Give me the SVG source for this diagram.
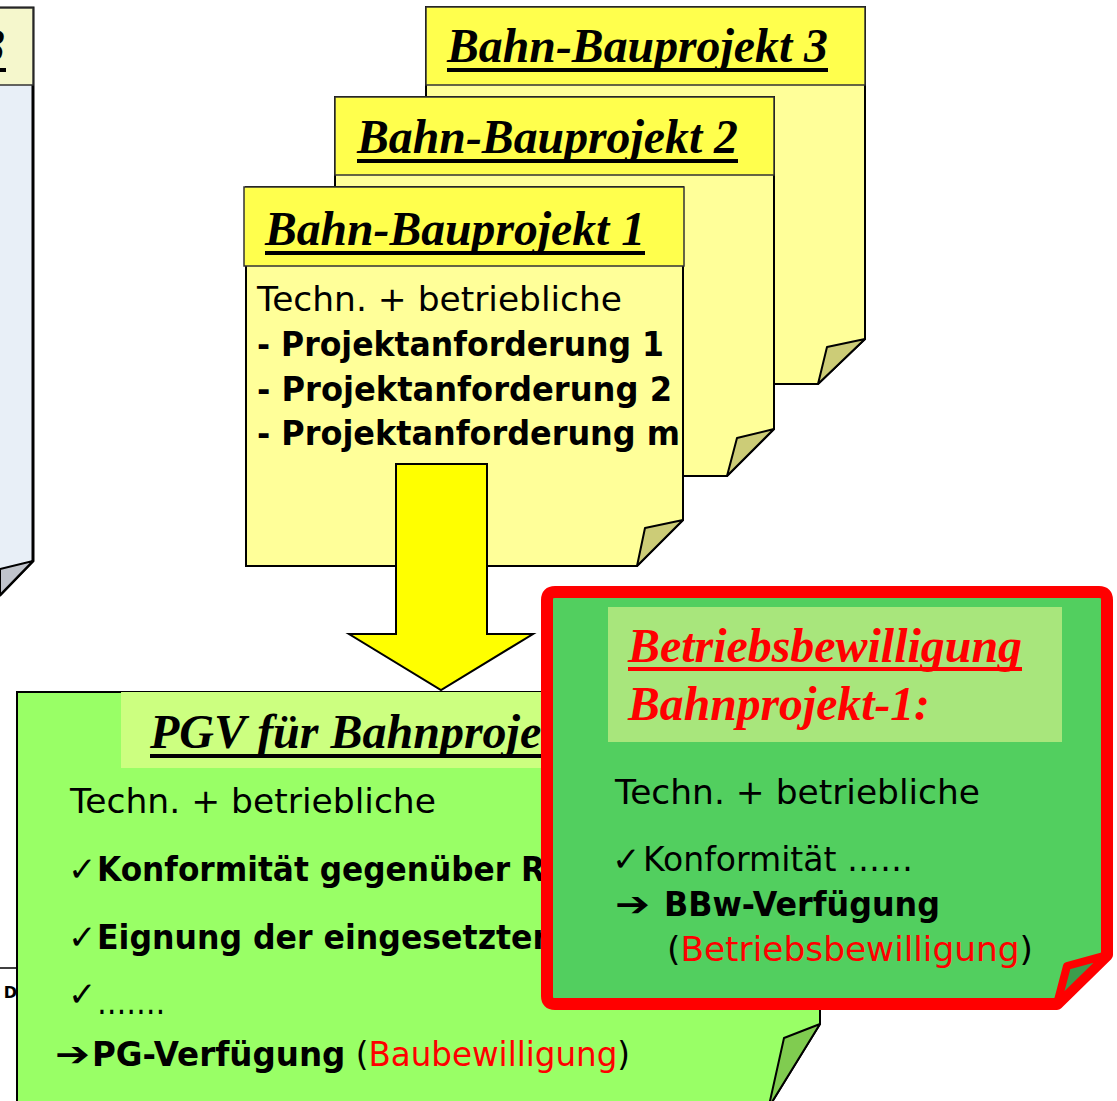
<svg xmlns="http://www.w3.org/2000/svg" width="1117" height="1101" viewBox="0 0 1117 1101">
<style>
.note{stroke:#000;stroke-width:2;stroke-linejoin:miter}
.hdrY{fill:#ffff4d;stroke:#333;stroke-width:1.5}
.bodyY{fill:#ffff99}
.foldY{fill:#cccc77;stroke:#000;stroke-width:2;stroke-linejoin:round}
.title{font-family:"Liberation Serif",serif;font-weight:bold;font-style:italic;font-size:48px;fill:#000}
.ul{fill:#000}
.txt{font-family:"DejaVu Sans","Liberation Sans",sans-serif;font-size:34px;fill:#000}
.b{font-weight:bold}
.red{fill:#ff0000}
</style>

<!-- partial note at top-left -->
<g id="node-partial">
  <path d="M-20,8 H33 V561 L0,595 H-20 Z" fill="#e8eff7" stroke="#000" stroke-width="3"/>
  <rect x="-20" y="8" width="53" height="77" fill="#f5f7cc" stroke="#333" stroke-width="1.5"/>
  <text class="title" x="-19" y="62">3</text>
  <rect class="ul" x="-20" y="68" width="26" height="4"/>
  <polygon points="33,561 0,569 0,595" fill="#c0c4cc" stroke="#000" stroke-width="2" stroke-linejoin="round"/>
</g>

<!-- partial box at lower-left -->
<g id="node-partial2">
  <line x1="0" y1="968" x2="17" y2="968" stroke="#000" stroke-width="1.5"/>
  <text x="17" y="998" text-anchor="end" font-family="DejaVu Sans,sans-serif" font-size="16" font-weight="bold">n D</text>
</g>

<g id="node-bp3">
  <path class="note bodyY" d="M426,7 H865 V339 L818,384 H426 Z"/>
  <rect class="hdrY" x="426" y="7" width="439" height="78"/>
  <text class="title" x="447" y="62" textLength="381" lengthAdjust="spacingAndGlyphs">Bahn-Bauprojekt 3</text>
  <rect class="ul" x="447" y="68" width="381" height="4"/>
  <polygon class="foldY" points="865,339 827,347 818,384"/>
</g>

<g id="node-bp2">
  <path class="note bodyY" d="M335,97 H774 V429 L727,476 H335 Z"/>
  <rect class="hdrY" x="335" y="97" width="439" height="78"/>
  <text class="title" x="357" y="153" textLength="381" lengthAdjust="spacingAndGlyphs">Bahn-Bauprojekt 2</text>
  <rect class="ul" x="357" y="159" width="381" height="4"/>
  <polygon class="foldY" points="774,429 737,438 727,476"/>
</g>

<g id="node-bp1">
  <path class="note bodyY" d="M246,187 H683 V520 L637,566 H246 Z"/>
  <rect class="hdrY" x="244" y="187" width="440" height="79"/>
  <text class="title" x="265" y="245" textLength="380" lengthAdjust="spacingAndGlyphs">Bahn-Bauprojekt 1</text>
  <rect class="ul" x="265" y="251" width="380" height="4"/>
  <text class="txt" x="257" y="311" textLength="365" lengthAdjust="spacingAndGlyphs">Techn. + betriebliche</text>
  <text class="txt b" x="257" y="356" textLength="407" lengthAdjust="spacingAndGlyphs">- Projektanforderung 1</text>
  <text class="txt b" x="257" y="401" textLength="415" lengthAdjust="spacingAndGlyphs">- Projektanforderung 2</text>
  <text class="txt b" x="257" y="445" textLength="423" lengthAdjust="spacingAndGlyphs">- Projektanforderung m</text>
  <polygon class="foldY" points="683,520 645,528 637,566"/>
</g>

<g id="connectors">
  <polygon points="396,464 487,464 487,634 533,634 441,690 349,634 396,634" fill="#ffff00" stroke="#000" stroke-width="2" stroke-linejoin="miter"/>
</g>

<g id="node-pgv">
  <path d="M17,692 H820 V1024 L764,1115 H17 Z" fill="#99ff66" stroke="#000" stroke-width="2"/>
  <rect x="121" y="692" width="699" height="76" fill="#ccff80"/>
  <text class="title" x="150" y="748">PGV für Bahnprojekt</text>
  <rect class="ul" x="150" y="754" width="430" height="4"/>
  <text class="txt" x="70" y="813" textLength="366" lengthAdjust="spacingAndGlyphs">Techn. + betriebliche</text>
  <text class="txt" x="68" y="881">✓</text>
  <text class="txt b" x="97" y="881" textLength="448" lengthAdjust="spacingAndGlyphs">Konformität gegenüber R</text>
  <text class="txt" x="68" y="949">✓</text>
  <text class="txt b" x="97" y="949" textLength="458" lengthAdjust="spacingAndGlyphs">Eignung der eingesetzten</text>
  <text class="txt" x="68" y="1006">✓</text>
  <text class="txt" x="97" y="1014" textLength="68" lengthAdjust="spacingAndGlyphs">…….</text>
  <text class="txt b" x="55" y="1066" textLength="35" lengthAdjust="spacingAndGlyphs">➔</text>
  <text class="txt" x="92" y="1066" textLength="538" lengthAdjust="spacingAndGlyphs"><tspan class="b">PG-Verfügung</tspan> (<tspan class="red">Baubewilligung</tspan>)</text>
  <polygon points="820,1024 784,1038 770,1101 764,1115" fill="#80cc50" stroke="#000" stroke-width="2" stroke-linejoin="round"/>
</g>

<g id="node-bbw">
  <path d="M555,592 H1099 Q1107,592 1107,600 V955 L1057,1004 H555 Q547,1004 547,996 V600 Q547,592 555,592 Z" fill="#52cf5f" stroke="#ff0000" stroke-width="12" stroke-linejoin="round"/>
  <rect x="608" y="607" width="454" height="135" fill="#a8e67c"/>
  <text class="title red" x="628" y="662" textLength="394" lengthAdjust="spacingAndGlyphs">Betriebsbewilligung</text>
  <rect class="red" x="628" y="667" width="394" height="4"/>
  <text class="title red" x="628" y="720" textLength="302" lengthAdjust="spacingAndGlyphs">Bahnprojekt-1:</text>
  <text class="txt" x="615" y="804" textLength="365" lengthAdjust="spacingAndGlyphs">Techn. + betriebliche</text>
  <text class="txt" x="612" y="871">✓</text>
  <text class="txt" x="643" y="871" textLength="270" lengthAdjust="spacingAndGlyphs">Konformität ……</text>
  <text class="txt b" x="615" y="916" textLength="35" lengthAdjust="spacingAndGlyphs">➔</text>
  <text class="txt b" x="664" y="916" textLength="276" lengthAdjust="spacingAndGlyphs">BBw-Verfügung</text>
  <text class="txt" x="667" y="961" textLength="366" lengthAdjust="spacingAndGlyphs">(<tspan class="red">Betriebsbewilligung</tspan>)</text>
  <polygon points="1107,955 1067,966 1057,1004" fill="#3c9c4c" stroke="#ff0000" stroke-width="8" stroke-linejoin="round"/>
</g>
</svg>
